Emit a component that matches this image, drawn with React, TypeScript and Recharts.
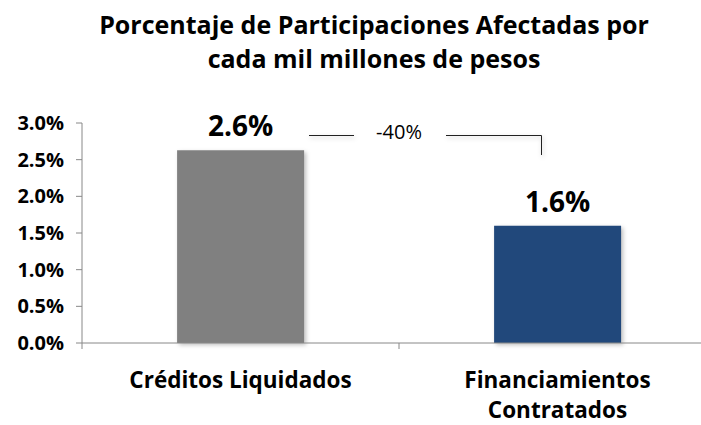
import { BarChart, Bar, XAxis, YAxis, Cell, LabelList } from "recharts";

const categories = ["Créditos Liquidados", "Financiamientos Contratados"];
const values = [0.0263, 0.016];
const barColors = ["#808080", "#21487b"];
const yTicks = [0, 0.005, 0.01, 0.015, 0.02, 0.025, 0.03];
const titleLines = ["Porcentaje de Participaciones Afectadas por", "cada mil millones de pesos"];
const changeLabel = "-40%";

const FONT = "'Open Sans', sans-serif";
const W = 720;
const H = 425;
const PLOT_LEFT = 82;
const PLOT_RIGHT = 716;
const BAND = (PLOT_RIGHT - PLOT_LEFT) / categories.length;

const data = categories.map((name, i) => ({ name, value: values[i] }));

const pct = (v: number) => `${(v * 100).toFixed(1)}%`;

function CategoryTick(props: any) {
  const { x, y, payload } = props;
  const text: string = payload.value;
  // long names wrap onto two lines like the original
  const lines = text.length > 20 ? text.split(" ") : [text];
  return (
    <g>
      <line x1={x - BAND / 2} x2={x - BAND / 2} y1={y - 8} y2={y - 2} stroke="#888" />
      {lines.map((l, i) => (
        <text
          key={i}
          x={x}
          y={y + 37 + i * 30}
          textAnchor="middle"
          fontFamily={FONT}
          fontWeight="bold"
          fontSize={22.5}
          fill="#000"
        >
          {l}
        </text>
      ))}
    </g>
  );
}

export default function App() {
  return (
    <div style={{ position: "absolute", left: 0, top: 0, width: 701, height: H, overflow: "hidden", background: "#fff" }}>
      <BarChart
        width={W}
        height={H}
        data={data}
        margin={{ top: 123, right: W - PLOT_RIGHT, bottom: 0, left: 0 }}
        barCategoryGap="30%"
      >
        <XAxis
          dataKey="name"
          height={82}
          axisLine={{ stroke: "#888" }}
          tickLine={false}
          tick={<CategoryTick />}
          interval={0}
        />
        <YAxis
          width={PLOT_LEFT}
          domain={[0, 0.03]}
          ticks={yTicks}
          tickFormatter={pct}
          axisLine={{ stroke: "#888" }}
          tickLine={{ stroke: "#888" }}
          tickSize={6}
          tickMargin={12}
          tick={{ fontFamily: FONT, fontWeight: "bold", fontSize: 20, fill: "#000" }}
        />
        <Bar dataKey="value" isAnimationActive={false}>
          {data.map((_, i) => (
            <Cell key={i} fill={barColors[i]} style={{ filter: "drop-shadow(2px 2px 2px rgba(0,0,0,0.25))" }} />
          ))}
          <LabelList
            dataKey="value"
            position="top"
            offset={14}
            formatter={(v: any) => pct(Number(v))}
            style={{ fontFamily: FONT, fontWeight: "bold", fontSize: 28, fill: "#000" }}
          />
        </Bar>
      </BarChart>
      <svg width={701} height={H} style={{ position: "absolute", left: 0, top: 0, pointerEvents: "none" }}>
        <text x={374} y={34} textAnchor="middle" fontFamily={FONT} fontWeight="bold" fontSize={25} fill="#000">
          {titleLines[0]}
        </text>
        <text x={374} y={68} textAnchor="middle" fontFamily={FONT} fontWeight="bold" fontSize={25} fill="#000">
          {titleLines[1]}
        </text>
        <g stroke="#222" strokeWidth={1} fill="none" style={{ filter: "drop-shadow(1px 2px 2px rgba(0,0,0,0.25))" }}>
          <line x1={309} x2={354} y1={135.5} y2={135.5} />
          <polyline points="446,135.5 541.5,135.5 541.5,155" />
        </g>
        <text x={399} y={139} textAnchor="middle" fontFamily={FONT} fontSize={20} fill="#000">
          {changeLabel}
        </text>
      </svg>
    </div>
  );
}
